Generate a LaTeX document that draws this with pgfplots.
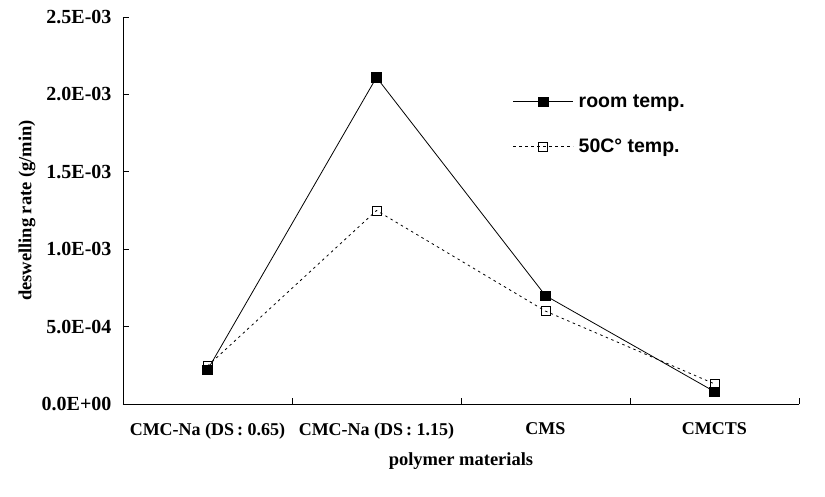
\documentclass[border=0pt]{standalone}
\usepackage{fontspec}
\setmainfont{Liberation Serif}
\newfontfamily\arialfont{Liberation Sans}
\usepackage{pgfplots}
\pgfplotsset{compat=1.18}
\begin{document}
\begin{tikzpicture}
\path[use as bounding box] (-123pt,-92pt) rectangle (702pt,404pt);
\begin{axis}[
  at={(0pt,0pt)}, anchor=south west,
  scale only axis, width=676pt, height=387pt,
  xmin=-0.5, xmax=3.5, ymin=0, ymax=0.0025,
  axis lines*=left,
  axis line style={line width=0.8pt},
  xtick={0,1,2,3},
  xticklabels={CMC-Na (DS\,: 0.65), CMC-Na (DS\,: 1.15), CMS, CMCTS},
  major x tick style={draw=none},
  minor xtick={0.5,1.5,2.5,3.5},
  minor tick length=6pt,
  ytick={0,0.0005,0.001,0.0015,0.002,0.0025},
  yticklabels={0.0E+00,5.0E-04,1.0E-03,1.5E-03,2.0E-03,2.5E-03},
  scaled y ticks=false,
  tick align=inside,
  major tick length=6pt,
  tick style={black, line width=0.8pt},
  xticklabel style={font=\fontsize{18}{21}\selectfont\bfseries, yshift=-15pt},
  yticklabel style={font=\fontsize{20}{23}\selectfont\bfseries, xshift=-8pt},
  xlabel={polymer materials},
  ylabel={deswelling rate (g/min)},
  label style={font=\fontsize{18.5}{21}\selectfont\bfseries},
  xlabel style={at={(axis description cs:0.5,-0.147)}, anchor=center},
  ylabel style={at={(axis description cs:-0.142,0.5)}, anchor=center},
  legend style={draw=none, fill=none, at={(axis description cs:0.572,0.81)}, anchor=north west,
    font=\arialfont\bfseries\fontsize{19.5}{22}\selectfont, row sep=26pt,
    legend cell align=left},
  legend image code/.code={\draw[mark repeat=2,mark phase=2] plot coordinates {(0pt,0pt) (30pt,0pt) (60pt,0pt)};},
]
\addplot[black, line width=0.8pt, mark=square*, mark size=4.7pt]
  coordinates {(0,0.00022) (1,0.00211) (2,0.00070) (3,0.00008)};
\addplot[black, line width=0.8pt, dash pattern=on 2.5pt off 3.5pt, mark=square,
  mark options={solid, fill=white}, mark size=4.5pt]
  coordinates {(0,0.000245) (1,0.00125) (2,0.00060) (3,0.00013)};
\legend{\hspace{3pt}room temp., \hspace{3pt}50C° temp.}
\end{axis}
\end{tikzpicture}
\end{document}
